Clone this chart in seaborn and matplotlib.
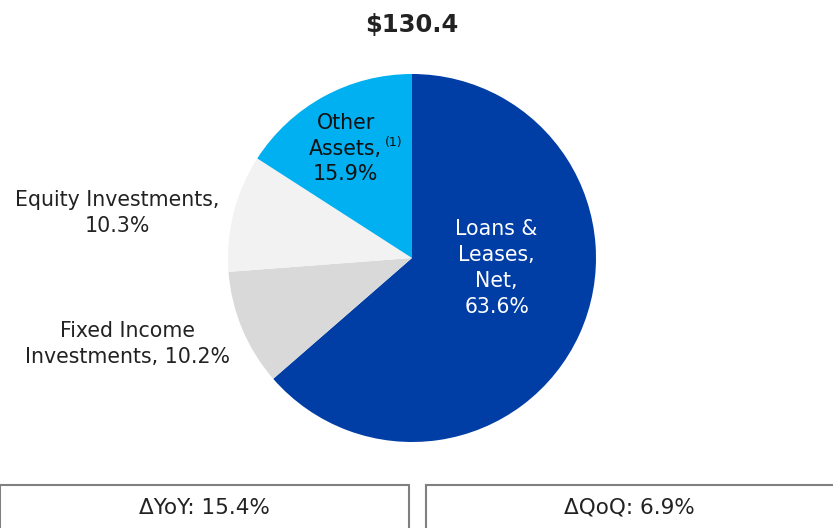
import matplotlib
matplotlib.use('Agg')
import matplotlib.pyplot as plt
from matplotlib.patches import Rectangle
import seaborn as sns

# Asset mix data
categories = ['Loans & Leases, Net', 'Fixed Income Investments', 'Equity Investments', 'Other Assets']
shares = [63.6, 10.2, 10.3, 15.9]
slice_colors = ['#003DA5', '#D9D9D9', '#F2F2F2', '#00B0F0']
total_label = '$130.4'
yoy_label = '\u0394YoY: 15.4%'
qoq_label = '\u0394QoQ: 6.9%'

sns.set_theme(style='white')
plt.rcParams['font.family'] = ['DejaVu Sans']

W, H = 833, 528
fig = plt.figure(figsize=(W / 100, H / 100), dpi=100)

# pie centre (412, 258) px, radius 184 px
cx, cy, r = 412, 258, 184
ax = fig.add_axes([(cx - r) / W, (H - cy - r) / H, 2 * r / W, 2 * r / H])
ax.pie(shares, colors=slice_colors, startangle=90, counterclock=False,
       radius=1, wedgeprops={'linewidth': 0})
ax.set_xlim(-1, 1)
ax.set_ylim(-1, 1)
ax.set_aspect('equal')
ax.axis('off')

fs = 14.8
ls = 1.36
ax.text(0.46, -0.054, 'Loans &\nLeases,\nNet,\n63.6%', color='white', fontsize=fs,
        ha='center', va='center', linespacing=ls)
ax.text(-0.36, 0.595, 'Other\nAssets,\n15.9%', color='#111111', fontsize=fs,
        ha='center', va='center', linespacing=ls)
ax.text(-0.10, 0.59, '(1)', color='#111111', fontsize=9, ha='center', va='bottom')
ax.text(-1.60, 0.245, 'Equity Investments,\n10.3%', color='#222222', fontsize=fs,
        ha='center', va='center', linespacing=ls, clip_on=False)
ax.text(-1.545, -0.467, 'Fixed Income\nInvestments, 10.2%', color='#222222', fontsize=fs,
        ha='center', va='center', linespacing=ls, clip_on=False)

fig.text(cx / W, 1 - 25 / H, total_label, fontsize=17.5, fontweight='bold',
         color='#222222', ha='center', va='center')

# bottom boxes
box_top = 485
for x0, x1, label in [(0, 409, yoy_label), (426, 840, qoq_label)]:
    fig.patches.append(Rectangle((x0 / W, -0.05), (x1 - x0) / W, (H - box_top) / H + 0.05,
                                 transform=fig.transFigure, fill=False,
                                 edgecolor='#808080', linewidth=1.5, clip_on=False))
    fig.text((x0 + min(x1, W)) / 2 / W, 1 - 508 / H, label, fontsize=15.5,
             color='#222222', ha='center', va='center')

fig.savefig('out.png', dpi=100)
